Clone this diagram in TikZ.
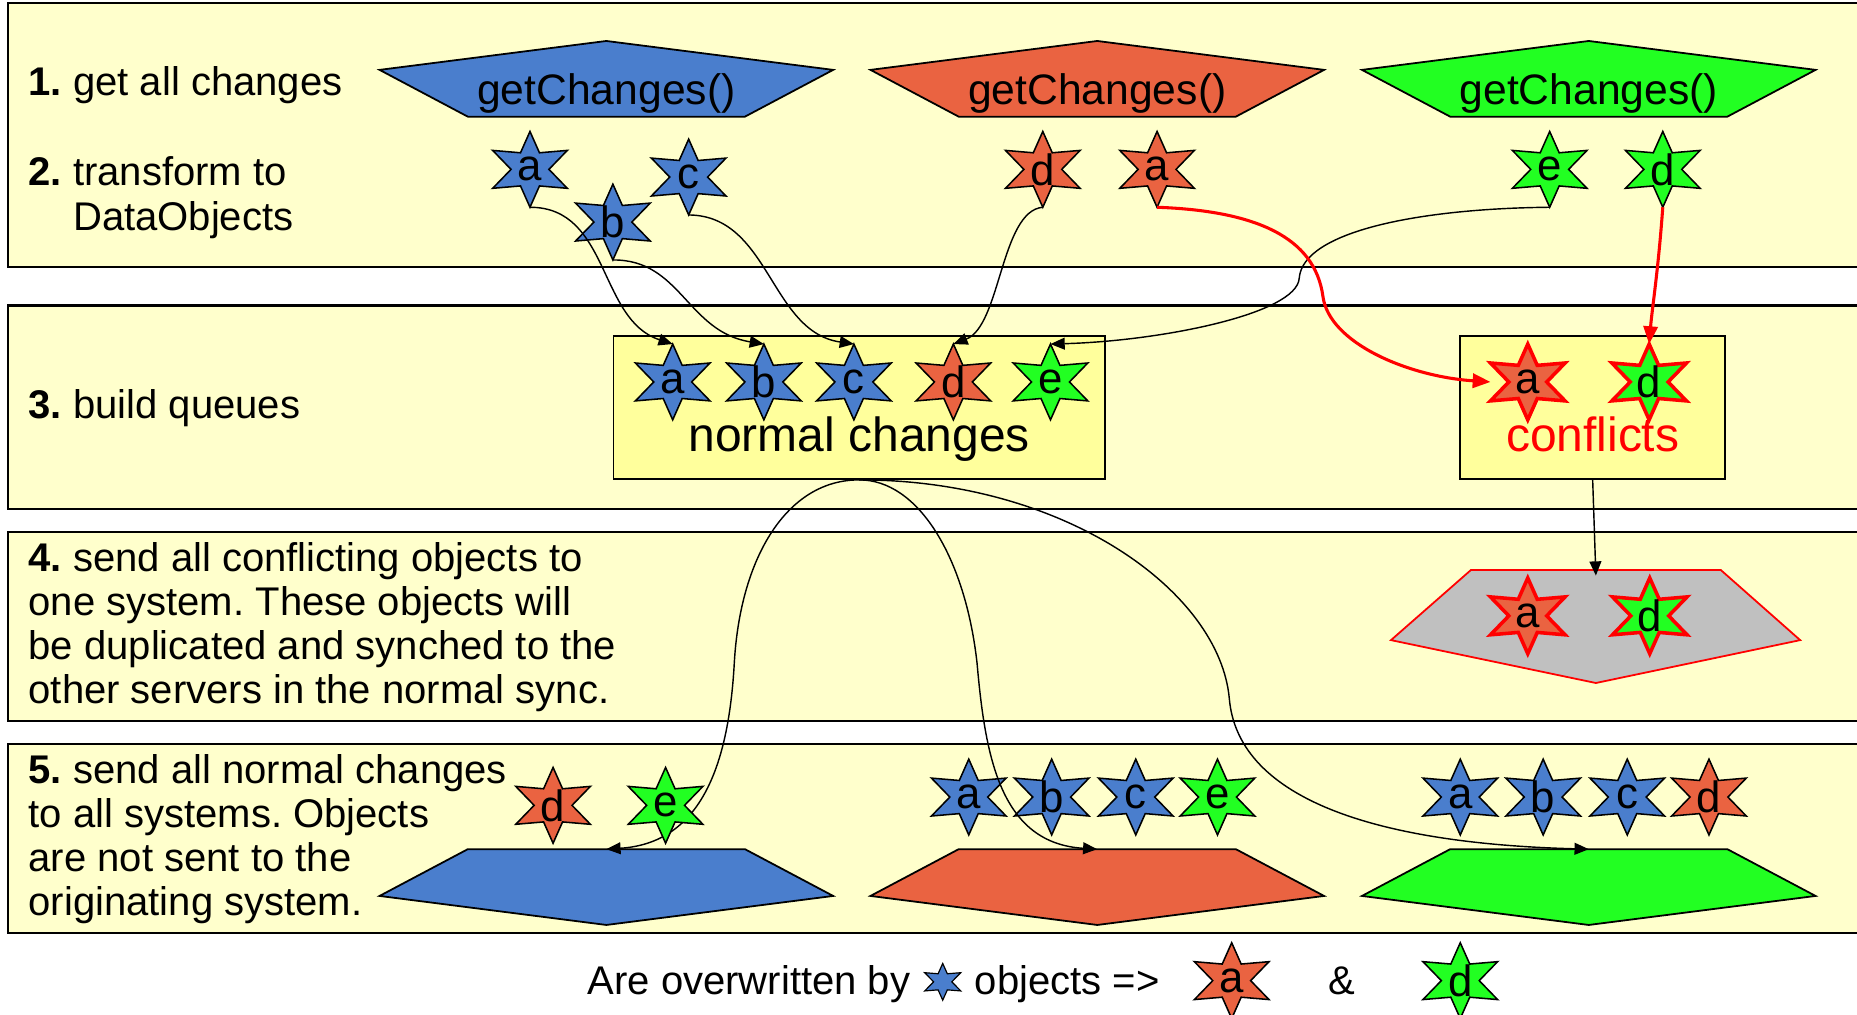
\documentclass[tikz,border=0pt]{standalone}
\usepackage{fontspec}
\setmainfont{Liberation Sans}
\usetikzlibrary{arrows.meta}
\frenchspacing

\definecolor{bandfill}{HTML}{FFFFCC}
\definecolor{qfill}{HTML}{FFFF9C}
\definecolor{sysblue}{HTML}{4A7ECD}
\definecolor{sysred}{HTML}{EA6341}
\definecolor{sysgreen}{HTML}{22FF22}
\definecolor{confgray}{HTML}{C0C0C0}
\definecolor{confred}{HTML}{FF0000}

\newcommand\fsz[2]{\fontsize{#1}{#2}\selectfont}

\tikzset{
  % six-pointed data object, a little wider than a regular hexagram
  objstar/.pic={
    \path[pic actions, line join=miter]
      (0,-32) -- (8,-14) -- (31.5,-16) -- (16,0) -- (31.5,16) -- (8,14)
      -- (0,32) -- (-8,14) -- (-31.5,16) -- (-16,0) -- (-31.5,-16) -- (-8,-14) -- cycle;
    \node[inner sep=0pt, font=\fsz{37}{37}] (-t) {#1};
    \coordinate (-top) at (0,-32);
    \coordinate (-bot) at (0,32);
    \coordinate (-left) at (-31.5,0);
  },
  tinystar/.pic={
    \path[pic actions, line join=miter]
      (0,-15.5) -- (3.9,-6.8) -- (15.2,-7.7) -- (7.7,0) -- (15.2,7.7) -- (3.9,6.8)
      -- (0,15.5) -- (-3.9,6.8) -- (-15.2,7.7) -- (-7.7,0) -- (-15.2,-7.7) -- (-3.9,-6.8) -- cycle;
    \coordinate (-c) at (0,0);
  },
  bstar/.style={fill=sysblue, draw=black, line width=1.3pt},
  rstar/.style={fill=sysred, draw=black, line width=1.3pt},
  gstar/.style={fill=sysgreen, draw=black, line width=1.3pt},
  rcstar/.style={fill=sysred, draw=confred, line width=3pt},
  gcstar/.style={fill=sysgreen, draw=confred, line width=3pt},
  band/.style={fill=bandfill, draw=black, line width=1.8pt},
  sysshape/.style={draw=black, line width=1.5pt, line join=miter},
  qbox/.style={draw=black, fill=qfill, line width=1.4pt, inner sep=0pt},
  steptext/.style={anchor=base west, inner sep=0pt, font=\fsz{33.8}{37.3}},
  conn/.style={draw=black, line width=1.2pt, -{Triangle[length=12pt,width=10pt]}},
  redconn/.style={draw=confred, line width=2.6pt, -{Triangle[length=15pt,width=12pt]}},
}

\begin{document}
\begin{tikzpicture}[x=1pt,y=-1pt]
\useasboundingbox (0,0) rectangle (1568,857);
\fill[white] (0,0) rectangle (1568,857);

% ---- step bands ----
\draw[band] (7,2.5) rectangle (1580,225.5);
\draw[band] (7,258) rectangle (1580,430);
\draw[band] (7,449) rectangle (1580,609);
\draw[band] (7,628) rectangle (1580,788);

% ---- step descriptions ----
\node[steptext] (t1) at (24,80.5) {\textbf{1.} get all changes};
\node[steptext] (t2) at (24,157) {\vtop{\hbox{\textbf{2.} transform to}\hbox{\phantom{\textbf{2.}\ }DataObjects}}};
\node[steptext] (t3) at (24,353) {\textbf{3.} build queues};
\node[steptext] (t4) at (24,482.5) {\vtop{%
  \hbox{\textbf{4.} send all conflicting objects to}%
  \hbox{one system. These objects will}%
  \hbox{be duplicated and synched to the}%
  \hbox{other servers in the normal sync.}}};
\node[steptext] (t5) at (24,661.5) {\vtop{%
  \hbox{\textbf{5.} send all normal changes}%
  \hbox{to all systems. Objects}%
  \hbox{are not sent to the}%
  \hbox{originating system.}}};

% ---- source systems (top) and target systems (bottom) ----
\foreach \cx/\col/\nm in {512/sysblue/B, 926.5/sysred/R, 1341.5/sysgreen/G}{
  \filldraw[sysshape, fill=\col]
    (\cx-191.5,59) -- (\cx,34.6) -- (\cx+191.5,59) -- (\cx+117,98.5) -- (\cx-117,98.5) -- cycle;
  \node[anchor=base, inner sep=0pt, font=\fsz{36}{36}] (get\nm) at (\cx,88) {getChanges()};
  \filldraw[sysshape, fill=\col]
    (\cx-117,717) -- (\cx+117,717) -- (\cx+191.5,756.5) -- (\cx,781) -- (\cx-191.5,756.5) -- cycle;
  \coordinate (in\nm) at (\cx,717);
}

% ---- queues ----
\node[qbox, minimum width=415pt, minimum height=121pt] (nq) at (725.5,344) {};
\node[qbox, minimum width=223.6pt, minimum height=121pt] (cq) at (1344.8,344) {};
\node[anchor=base, inner sep=0pt, font=\fsz{40.5}{40.5}] (nqlabel) at (725.5,381) {normal changes};
\node[anchor=base, inner sep=0pt, font=\fsz{40.5}{40.5}, text=confred] (cqlabel) at (1344.8,381) {conflicts};

% ---- conflict system ----
\filldraw[fill=confgray, draw=confred, line width=1.5pt, line join=miter]
  (1242,481.3) -- (1453,481.3) -- (1520,540.5) -- (1347.5,576.7) -- (1174.5,540.5) -- cycle;
\coordinate (grayTop) at (1347.5,486);

% ---- normal changes to the blue system (runs under the e object) ----
\draw[conn] (nq.south) .. controls (665,405) and (625,470) .. (620,560)
  .. controls (615,650) and (590,712) .. (inB);

% ---- data objects from the sources ----
\pic[bstar] (s2a) at (447.5,143) {objstar=a};
\pic[bstar] (s2c) at (581.5,149.5) {objstar=c};
\pic[bstar] (s2b) at (517.5,187.5) {objstar=b};
\pic[rstar] (s2d) at (880.5,143) {objstar=d};
\pic[rstar] (s2ra) at (977,143) {objstar=a};
\pic[gstar] (s2e) at (1308.5,143) {objstar=e};
\pic[gstar] (s2gd) at (1404,143) {objstar=d};

% ---- queued objects ----
\pic[bstar] (qa) at (568,322.5) {objstar=a};
\pic[bstar] (qb) at (645,322.5) {objstar=b};
\pic[bstar] (qc) at (721,322.5) {objstar=c};
\pic[rstar] (qd) at (805,322.5) {objstar=d};
\pic[gstar] (qe) at (887,322.5) {objstar=e};
\pic[rcstar] (ca) at (1290,322.5) {objstar=a};
\pic[gcstar] (cd) at (1392.5,322.5) {objstar=d};

% ---- objects sent to the conflict system ----
\pic[rcstar] (ka) at (1290,520) {objstar=a};
\pic[gcstar] (kd) at (1393,520) {objstar=d};

% ---- objects sent to each target system ----
\pic[rstar] (ob1d) at (467,680) {objstar=d};
\pic[gstar] (ob1e) at (562,680) {objstar=e};
\pic[bstar] (ob2a) at (818,673) {objstar=a};
\pic[bstar] (ob2b) at (888,673) {objstar=b};
\pic[bstar] (ob2c) at (959,673) {objstar=c};
\pic[gstar] (ob2e) at (1028,673) {objstar=e};
\pic[bstar] (ob3a) at (1233,673) {objstar=a};
\pic[bstar] (ob3b) at (1303,673) {objstar=b};
\pic[bstar] (ob3c) at (1374,673) {objstar=c};
\pic[rstar] (ob3d) at (1443,673) {objstar=d};

% ---- connectors into the queues ----
\draw[conn] (s2a-bot) .. controls (515,175) and (505,270) .. (qa-top);
\draw[conn] (s2b-bot) .. controls (575,219) and (580,280) .. (qb-top);
\draw[conn] (s2c-bot) .. controls (650,182) and (650,280) .. (qc-top);
\draw[conn] (s2d-bot) .. controls (845,178) and (845,275) .. (qd-top);
\draw[conn] (s2e-bot) .. controls (1200,176) and (1100,195) .. (1097,235)
  .. controls (1095,265) and (980,288) .. (qe-top);
\draw[redconn] (s2ra-bot) .. controls (1060,178) and (1110,200) .. (1117,250)
  .. controls (1122,290) and (1190,318) .. (ca-left);
\draw[redconn] (s2gd-bot) .. controls (1400,230) and (1395,260) .. (cd-top);

% ---- connectors out of the queues ----
\draw[conn] (cq.south) -- (grayTop);
\draw[conn] (nq.south) .. controls (775,405) and (815,470) .. (825,560)
  .. controls (832,640) and (845,712) .. (inR);
\draw[conn] (nq.south) .. controls (900,405) and (1030,500) .. (1038,590)
  .. controls (1045,670) and (1150,712) .. (inG);

% ---- legend ----
\node[steptext] (lg1) at (496,840) {Are overwritten by};
\pic[bstar, line width=1pt] (lgs) at (796,829) {tinystar};
\node[steptext] (lg2) at (823,840) {objects =>};
\pic[rstar] (lga) at (1040,828) {objstar=a};
\node[anchor=base, inner sep=0pt, font=\fsz{33.8}{37.3}] (lgamp) at (1133,840) {\&};
\pic[gstar] (lgd) at (1233,828) {objstar=d};
\end{tikzpicture}
\end{document}
